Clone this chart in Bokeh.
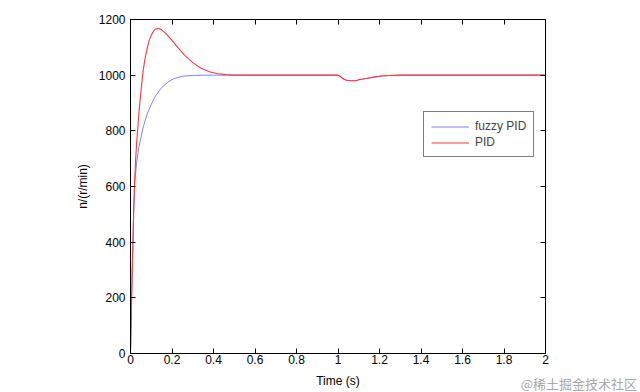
from bokeh.plotting import figure
from bokeh.models import (Range1d, FixedTicker, LinearAxis, Legend, LegendItem, Div,
                          CustomJSTickFormatter)
from bokeh.layouts import column
from bokeh.embed import file_html
from bokeh.resources import INLINE

# ---- data ----
pid_t = [0, 0.005, 0.01, 0.015, 0.02, 0.025, 0.03, 0.035, 0.04, 0.05, 0.06, 0.07,
         0.08, 0.09, 0.1, 0.11, 0.12, 0.13, 0.14, 0.15, 0.17, 0.2, 0.23, 0.26, 0.3,
         0.34, 0.38, 0.42, 0.46, 0.5, 1.0, 1.01, 1.02, 1.03, 1.04, 1.06, 1.09, 1.1,
         1.12, 1.15, 1.18, 1.21, 1.25, 1.3, 2.0]
pid_n = [0, 180, 350, 500, 620, 700, 760, 810, 860, 940, 1010, 1060,
         1095, 1125, 1143, 1157, 1165, 1168, 1167, 1163, 1150, 1125, 1098, 1072, 1045,
         1025, 1012, 1005, 1002, 1000, 1000, 996, 990, 985, 982, 980, 980, 984,
         986, 990, 994, 997, 999, 1000, 1000]

fuzzy_t = [0, 0.005, 0.01, 0.015, 0.02, 0.03, 0.04, 0.05, 0.06, 0.08, 0.1, 0.12,
           0.15, 0.18, 0.21, 0.25, 0.3, 0.35, 0.4, 0.5, 1.0, 1.01, 1.02, 1.03, 1.04,
           1.06, 1.09, 1.1, 1.12, 1.15, 1.18, 1.21, 1.25, 1.3, 2.0]
fuzzy_n = [0, 180, 350, 500, 610, 690, 740, 775, 810, 860, 895, 925,
           955, 975, 988, 996, 999, 1000, 1000, 1000, 1000, 996, 990, 985, 982,
           980, 980, 984, 986, 990, 994, 997, 999, 1000, 1000]

x_ticks = [0, 0.2, 0.4, 0.6, 0.8, 1, 1.2, 1.4, 1.6, 1.8, 2]
x_tick_labels = ["0", "0.2", "0.4", "0.6", "0.8", "1", "1.2", "1.4", "1.6", "1.8", "2"]
y_ticks = [0, 200, 400, 600, 800, 1000, 1200]
series_names = ["fuzzy PID", "PID"]
x_title = "Time (s)"
y_title = "n/(r/min)"
watermark = "@稀土掘金技术社区"

FONT = "Liberation Sans"

p = figure(width=640, height=392, output_backend="svg", toolbar_location=None,
           x_range=Range1d(0, 2), y_range=Range1d(0, 1200),
           min_border_left=130, min_border_right=95, min_border_top=19,
           min_border_bottom=39, x_axis_label=x_title, y_axis_label=y_title)
p.grid.visible = False
p.outline_line_color = "black"
p.background_fill_color = "white"
p.border_fill_color = "white"

p.xaxis.ticker = FixedTicker(ticks=x_ticks)
p.xaxis.major_label_overrides = {t: l for t, l in zip(x_ticks, x_tick_labels)}
p.yaxis.ticker = FixedTicker(ticks=y_ticks)

for ax in [p.xaxis[0], p.yaxis[0]]:
    ax.major_tick_in = 5
    ax.major_tick_out = 0
    ax.minor_tick_line_color = None
    ax.axis_line_color = "black"
    ax.major_tick_line_color = "black"
    ax.major_label_text_font = FONT
    ax.major_label_text_font_size = "12px"
    ax.major_label_text_color = "black"
    ax.axis_label_text_font = FONT
    ax.axis_label_text_font_size = "12px"
    ax.axis_label_text_font_style = "normal"
    ax.axis_label_text_color = "black"

p.xaxis.major_label_standoff = 1
p.xaxis.axis_label_standoff = 7
p.yaxis.major_label_standoff = 5
p.yaxis.axis_label_standoff = 6

# mirrored axes (box with inward ticks, no labels)
blank = CustomJSTickFormatter(code="return '';")
top = LinearAxis(ticker=FixedTicker(ticks=x_ticks), major_tick_in=5, major_tick_out=0,
                 minor_tick_line_color=None, formatter=blank,
                 major_label_text_color=None, major_label_standoff=0,
                 axis_line_color="black")
right = LinearAxis(ticker=FixedTicker(ticks=y_ticks), major_tick_in=5, major_tick_out=0,
                   minor_tick_line_color=None, formatter=blank,
                   major_label_text_color=None, major_label_standoff=0,
                   axis_line_color="black")
p.add_layout(top, "above")
p.add_layout(right, "right")

r_fuzzy = p.line(fuzzy_t, fuzzy_n, line_color="#8080ff", line_width=1.0)
r_pid = p.line(pid_t, pid_n, line_color="#ff3838", line_width=1.1)

legend = Legend(items=[LegendItem(label=series_names[0], renderers=[r_fuzzy]),
                       LegendItem(label=series_names[1], renderers=[r_pid])],
                location=(293, 196), border_line_color="black", border_line_width=1,
                background_fill_color="white", background_fill_alpha=1,
                label_text_font=FONT, label_text_font_size="12px",
                glyph_width=38, glyph_height=13, label_height=13, label_standoff=6,
                spacing=2, padding=7, margin=0)
p.add_layout(legend, "center")

wm = Div(text=watermark, width=640, height=17, margin=(-17, 0, 0, 0),
         styles={"text-align": "right", "color": "#a8a8a8", "font-size": "13px",
                 "font-family": "'Noto Sans CJK SC'", "line-height": "17px",
                 "padding-right": "3px", "box-sizing": "border-box",
                 "pointer-events": "none"})

layout = column(p, wm, spacing=0)
open("out.html", "w").write(file_html(layout, INLINE))
